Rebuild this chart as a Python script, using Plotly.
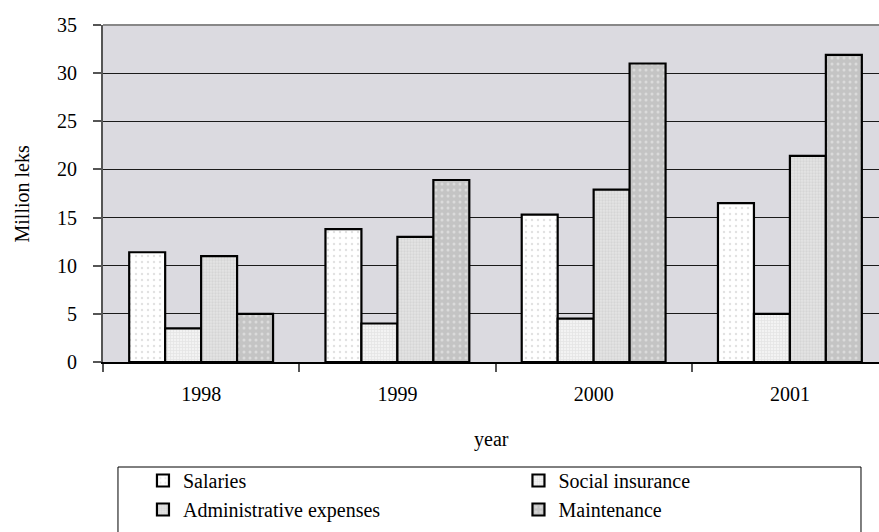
import plotly.graph_objects as go

years = ["1998", "1999", "2000", "2001"]
salaries = [11.4, 13.8, 15.3, 16.5]
social_insurance = [3.5, 4.0, 4.5, 5.0]
admin_expenses = [11.0, 13.0, 17.9, 21.4]
maintenance = [5.0, 18.9, 31.0, 31.9]

series_names = ["Salaries", "Social insurance", "Administrative expenses", "Maintenance"]
series_values = [salaries, social_insurance, admin_expenses, maintenance]
legend_ids = ["legend", "legend2", "legend", "legend2"]
patterns = [
    dict(shape=".", fgcolor="#c4c4c4", bgcolor="#ffffff", size=6, solidity=0.12),
    dict(shape="+", fgcolor="#d0d0d0", bgcolor="#f3f3f3", size=3, solidity=0.35),
    dict(shape=".", fgcolor="#c6c6c6", bgcolor="#e4e4e4", size=3, solidity=0.45),
    dict(shape=".", fgcolor="#f2f2f2", bgcolor="#c4c4c4", size=6, solidity=0.2),
]

FONT = "Liberation Serif, Times New Roman, serif"
FS = 20

fig = go.Figure()
for name, vals, pat, lg in zip(series_names, series_values, patterns, legend_ids):
    fig.add_trace(go.Bar(
        x=years, y=vals, name=name, legend=lg, legendgroup=name,
        marker=dict(color=pat["bgcolor"], pattern=pat,
                    line=dict(color="#000000", width=2.2)),
    ))

legend_common = dict(
    orientation="v",
    xanchor="left", yanchor="top",
    y=-0.2938,
    borderwidth=0,
    bgcolor="rgba(0,0,0,0)",
    tracegroupgap=3,
    font=dict(family=FONT, size=FS),
    traceorder="normal",
)

fig.update_layout(
    width=879, height=532,
    margin=dict(l=103, r=0, t=25, b=170),
    paper_bgcolor="#ffffff",
    plot_bgcolor="#dbdae0",
    barmode="group",
    bargap=0.267,
    bargroupgap=0,
    font=dict(family=FONT, size=FS, color="#000000"),
    showlegend=True,
    legend=dict(x=0.0515, **legend_common),
    legend2=dict(x=0.5354, **legend_common),
    xaxis=dict(
        type="category",
        range=[-0.5, 3.454],
        showline=True, linecolor="#000000", linewidth=1.5,
        ticks="outside", tickson="boundaries", ticklen=8, tickcolor="#555555", tickwidth=1.5,
        showgrid=False,
        ticklabelstandoff=13,
        tickfont=dict(family=FONT, size=FS),
    ),
    yaxis=dict(
        range=[0, 35], dtick=5,
        showline=True, linecolor="#555555", linewidth=2,
        ticks="outside", ticklen=8, tickcolor="#555555", tickwidth=1.5,
        showgrid=True, gridcolor="#1a1a1a", gridwidth=1,
        zeroline=False,
        ticklabelstandoff=12,
        tickfont=dict(family=FONT, size=FS),
    ),
    annotations=[
        dict(text="Million leks", xref="paper", yref="paper", x=-0.1044, y=0.5,
             textangle=-90, showarrow=False, font=dict(family=FONT, size=FS),
             xanchor="center", yanchor="middle"),
        dict(text="year", xref="paper", yref="paper", x=0.5, y=-0.23,
             showarrow=False, font=dict(family=FONT, size=FS),
             xanchor="center", yanchor="middle"),
    ],
    shapes=[
        dict(type="line", xref="paper", yref="paper", x0=0, x1=1, y0=1, y1=1,
             line=dict(color="#888888", width=2), layer="above"),
        dict(type="rect", xref="paper", yref="paper", x0=0.0193, x1=0.9768,
             y0=-0.3116, y1=-0.55, line=dict(color="#000000", width=1),
             fillcolor="rgba(0,0,0,0)", layer="above"),
    ],
)

fig.write_html("out.html")
